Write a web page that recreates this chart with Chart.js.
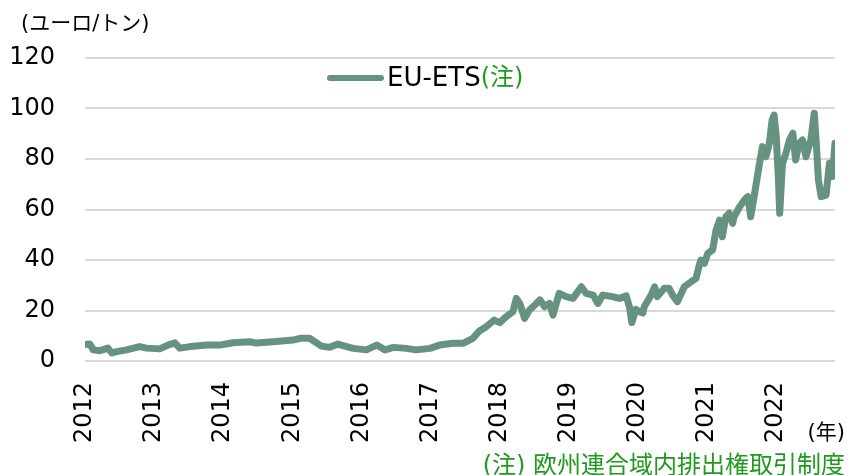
<!DOCTYPE html>
<html>
<head>
<meta charset="utf-8">
<script src="https://cdn.jsdelivr.net/npm/chart.js@4.4.0/dist/chart.umd.min.js"></script>
<style>
  html, body { margin: 0; padding: 0; background: #fff; }
  #wrap { position: relative; width: 848px; height: 475px; }
  #wrap canvas { position: absolute; left: 0; top: 0; }
  .note { position: absolute; font-family: "DejaVu Sans", "Noto Sans CJK JP", sans-serif; white-space: nowrap; }
  #unit { left: 21px; top: 6px; font-size: 21px; color: #000; }
  #nen { right: 3px; top: 415px; font-size: 21px; color: #000; }
  #foot { right: 3px; top: 445px; font-size: 24px; color: #1f9a1f; }
</style>
</head>
<body>
<div id="wrap">
  <canvas id="myChart" width="848" height="475"></canvas>
  <div class="note" id="unit">(ユーロ/トン)</div>
  <div class="note" id="nen">(年)</div>
  <div class="note" id="foot">(注) 欧州連合域内排出権取引制度</div>
</div>
<script>
//---------------------
// EU-ETS PRICE CHART //
//---------------------

// tick labels
const years = [2012, 2013, 2014, 2015, 2016, 2017, 2018, 2019, 2020, 2021, 2022];
const yTicks = [0, 20, 40, 60, 80, 100, 120];

// date (decimal year) and price (EUR/t)
const dates = [
  2012.00, 2012.07, 2012.12, 2012.22, 2012.33, 2012.39, 2012.46, 2012.60, 2012.79, 2012.89,
  2013.08, 2013.20, 2013.30, 2013.37, 2013.52, 2013.76, 2013.95, 2014.14, 2014.38, 2014.48,
  2014.72, 2015.01, 2015.11, 2015.25, 2015.29, 2015.42, 2015.54, 2015.66, 2015.76, 2015.88,
  2016.07, 2016.22, 2016.34, 2016.46, 2016.65, 2016.79, 2016.99, 2017.13, 2017.32, 2017.47,
  2017.61, 2017.71, 2017.80, 2017.92, 2018.00, 2018.09, 2018.19, 2018.24, 2018.29, 2018.36,
  2018.43, 2018.53, 2018.58, 2018.65, 2018.72, 2018.77, 2018.86, 2018.96, 2019.06, 2019.18,
  2019.25, 2019.35, 2019.42, 2019.49, 2019.63, 2019.73, 2019.83, 2019.88, 2019.91, 2019.97,
  2020.02, 2020.07, 2020.09, 2020.19, 2020.24, 2020.28, 2020.38, 2020.45, 2020.50, 2020.57,
  2020.67, 2020.77, 2020.84, 2020.88, 2020.91, 2020.96, 2021.01, 2021.08, 2021.13, 2021.18,
  2021.22, 2021.27, 2021.32, 2021.37, 2021.39, 2021.47, 2021.54, 2021.59, 2021.63, 2021.68,
  2021.75, 2021.80, 2021.85, 2021.90, 2021.94, 2021.97, 2022.00, 2022.03, 2022.05, 2022.09,
  2022.14, 2022.19, 2022.24, 2022.28, 2022.33, 2022.38, 2022.43, 2022.50, 2022.55, 2022.58,
  2022.61, 2022.65, 2022.72, 2022.77, 2022.81, 2022.85
];
const prices = [
  6.5, 6.7, 4.4, 4.1, 5.1, 3.2, 3.7, 4.4, 5.7, 5.1,
  4.8, 6.3, 7.2, 5.1, 5.7, 6.3, 6.3, 7.2, 7.6, 7.1,
  7.6, 8.3, 9.0, 9.0, 8.3, 5.9, 5.4, 6.7, 5.9, 5.0,
  4.4, 6.3, 4.4, 5.4, 5.0, 4.4, 5.0, 6.3, 7.0, 7.0,
  9.0, 12.0, 13.5, 16.2, 15.2, 17.5, 19.5, 24.8, 22.8, 16.9,
  20.2, 22.8, 24.2, 21.5, 22.8, 18.2, 26.8, 25.5, 24.8, 29.4,
  26.8, 26.1, 22.8, 26.1, 25.5, 24.8, 25.8, 21.0, 15.2, 20.5,
  19.5, 19.0, 21.5, 26.1, 29.4, 25.5, 28.8, 28.8, 26.1, 23.5,
  29.4, 31.4, 32.7, 37.3, 40.0, 38.7, 42.6, 44.0, 51.9, 55.8,
  49.2, 57.1, 58.5, 54.5, 57.1, 61.1, 63.8, 65.1, 57.1, 65.1,
  77.0, 84.9, 80.9, 86.2, 95.4, 97.4, 88.8, 73.0, 58.5, 78.3,
  82.2, 87.5, 90.2, 79.6, 86.2, 87.5, 80.9, 87.5, 98.1, 86.2,
  71.7, 65.1, 65.7, 78.3, 73.0, 86.2
];

const lineColor = 'rgb(102, 146, 128)';
const noteGreen = '#1f9a1f';
const fontFamily = '"DejaVu Sans", "Noto Sans CJK JP", sans-serif';

// legend drawn inside the plot, "(注)" in green
const legendInPlot = {
    id: 'legendInPlot',
    afterDatasetsDraw(chart) {
        const c = chart.ctx;
        const y = 78;
        c.save();
        c.strokeStyle = lineColor;
        c.lineWidth = 6;
        c.lineCap = 'round';
        c.beginPath();
        c.moveTo(330, y);
        c.lineTo(381, y);
        c.stroke();
        c.font = '26px ' + fontFamily;
        c.textBaseline = 'middle';
        c.textAlign = 'left';
        c.fillStyle = '#000';
        c.fillText('EU-ETS', 387, y + 1);
        const w = c.measureText('EU-ETS').width;
        c.fillStyle = noteGreen;
        c.font = '24px ' + fontFamily;
        c.fillText('(注)', 387 + w, y + 1);
        c.restore();
    }
};

const ctx = document.getElementById('myChart');

new Chart(ctx, {
    type: 'line',
    data: {
        datasets: [{
            label: 'EU-ETS(注)',
            data: dates.map((d, i) => ({ x: d, y: prices[i] })),
            borderColor: lineColor,
            backgroundColor: lineColor,
            borderWidth: 7,
            pointRadius: 0,
            tension: 0,
            borderJoinStyle: 'round',
            borderCapStyle: 'round',
            fill: false
        }]
    },
    options: {
        responsive: false,
        animation: false,
        layout: { padding: { top: 58, right: 13, bottom: 0, left: 0 } },
        plugins: {
            legend: { display: false },
            tooltip: { enabled: false }
        },
        scales: {
            x: {
                type: 'linear',
                min: 2012,
                max: 2022.85,
                afterBuildTicks: (scale) => { scale.ticks = years.map(v => ({ value: v })); },
                afterFit: (scale) => { scale.height = 114; },
                grid: { display: false, drawTicks: false },
                border: { display: false },
                ticks: {
                    autoSkip: false,
                    minRotation: 90,
                    maxRotation: 90,
                    padding: 21,
                    color: '#000',
                    font: { family: fontFamily, size: 24 },
                    callback: (v) => String(v)
                }
            },
            y: {
                min: 0,
                max: 120,
                afterBuildTicks: (scale) => { scale.ticks = yTicks.map(v => ({ value: v })); },
                afterFit: (scale) => { scale.width = 85; },
                grid: { color: '#d9d9d9', lineWidth: 2, drawTicks: false },
                border: { display: false },
                ticks: {
                    padding: 30,
                    color: '#000',
                    font: { family: fontFamily, size: 24 }
                }
            }
        }
    },
    plugins: [legendInPlot]
});
</script>
</body>
</html>
